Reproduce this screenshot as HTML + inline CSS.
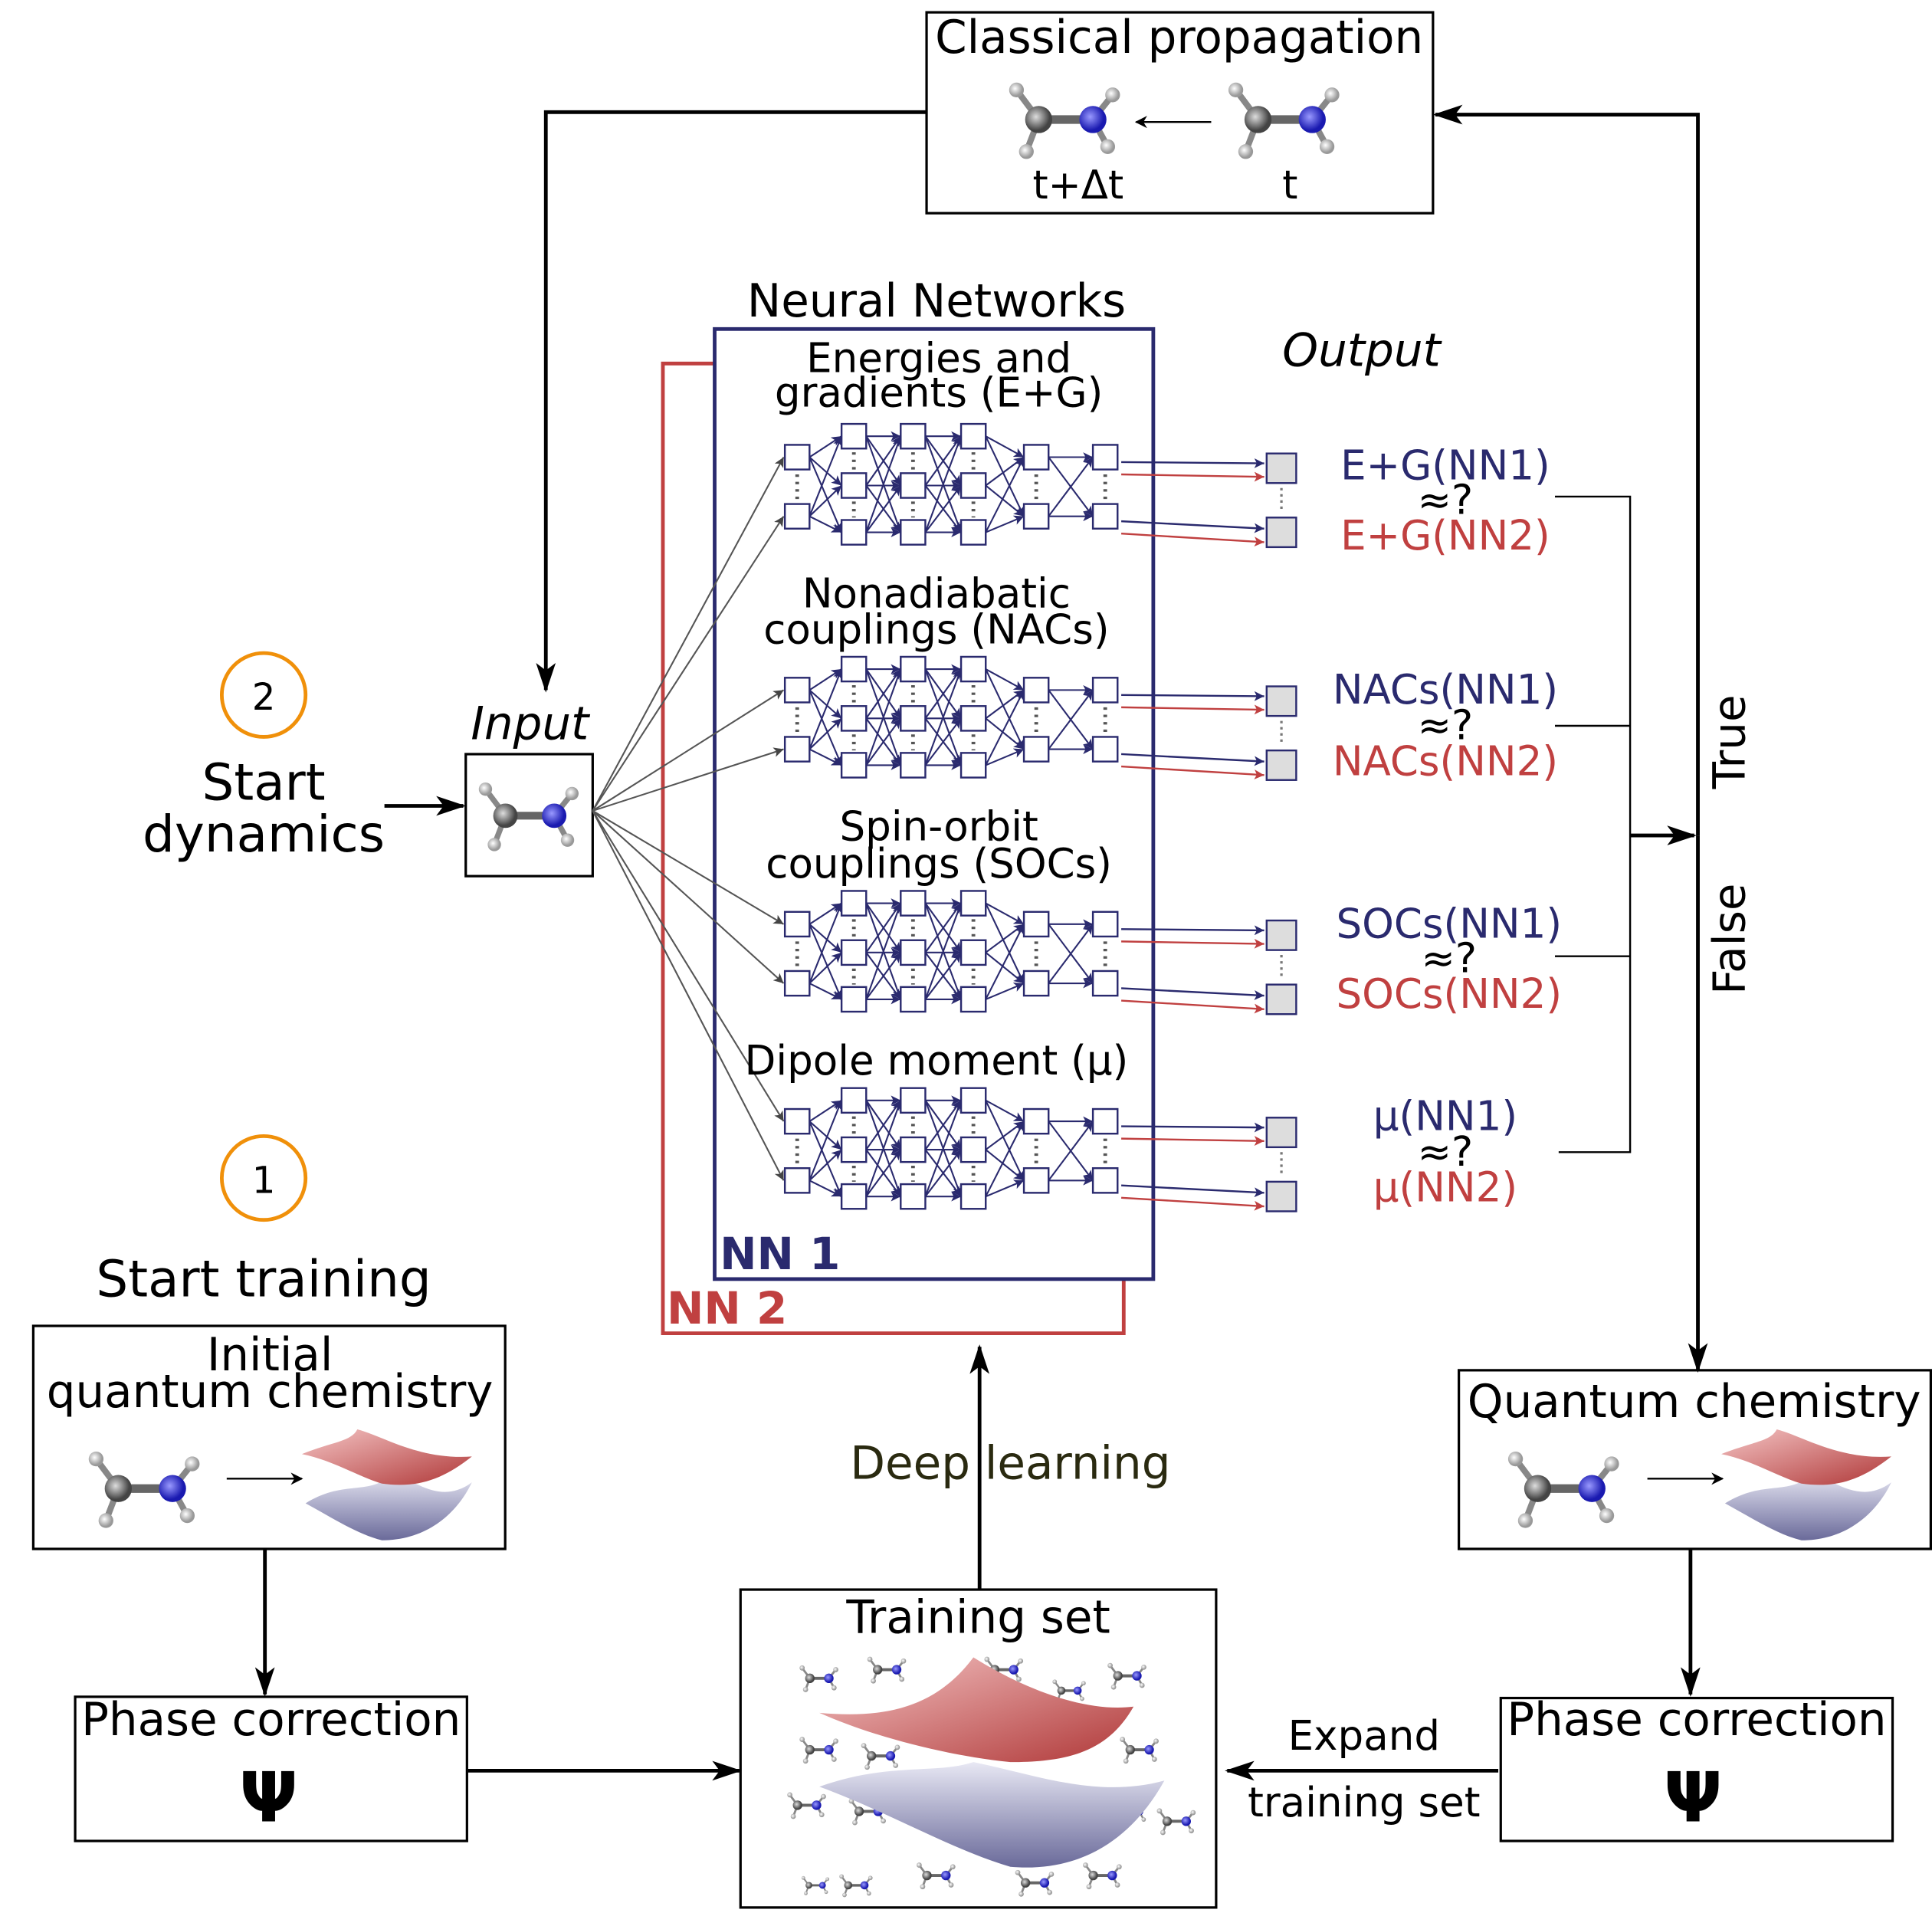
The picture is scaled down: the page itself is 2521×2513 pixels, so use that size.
<!DOCTYPE html>
<html><head><meta charset="utf-8"><style>
html,body{margin:0;padding:0;background:#fff}
svg{display:block}
text{font-family:"DejaVu Sans","Liberation Sans",sans-serif}
</style></head><body>
<svg width="2521" height="2513" viewBox="0 0 1568 1563" xmlns="http://www.w3.org/2000/svg" xmlns:xlink="http://www.w3.org/1999/xlink">
<defs>
<marker id="ab" markerWidth="10" markerHeight="10" refX="9" refY="5" orient="auto" markerUnits="userSpaceOnUse"><path d="M0,0 L10,5 L0,10 L3,5z" fill="#000"/></marker>
<marker id="ab2" markerWidth="24" markerHeight="16" refX="22" refY="8" orient="auto" markerUnits="userSpaceOnUse"><path d="M0,0 L24,8 L0,16 L6,8z" fill="#000"/></marker>
<marker id="an" markerWidth="8" markerHeight="8" refX="8" refY="4" orient="auto" markerUnits="userSpaceOnUse"><path d="M0,0 L8,4 L0,8 L2,4z" fill="#2a2a6e"/></marker>
<marker id="ar" markerWidth="8" markerHeight="8" refX="8" refY="4" orient="auto" markerUnits="userSpaceOnUse"><path d="M0,0 L8,4 L0,8 L2,4z" fill="#c04040"/></marker>
<marker id="ag" markerWidth="8" markerHeight="8" refX="8" refY="4" orient="auto" markerUnits="userSpaceOnUse"><path d="M0,0 L8,4 L0,8 L2,4z" fill="#444"/></marker>
<linearGradient id="gr" x1="0" y1="0" x2="1" y2="1"><stop offset="0" stop-color="#f4c4c4"/><stop offset="1" stop-color="#b03838"/></linearGradient>
<linearGradient id="gb" x1="0" y1="0" x2="0" y2="1"><stop offset="0" stop-color="#e8e8f4"/><stop offset="1" stop-color="#6a6a9a"/></linearGradient>
<radialGradient id="mc" cx=".4" cy=".4"><stop offset="0" stop-color="#ddd"/><stop offset="1" stop-color="#444"/></radialGradient>
<radialGradient id="mn" cx=".4" cy=".4"><stop offset="0" stop-color="#99f"/><stop offset="1" stop-color="#1a1ab0"/></radialGradient>
<radialGradient id="mh" cx=".4" cy=".4"><stop offset="0" stop-color="#fff"/><stop offset="1" stop-color="#999"/></radialGradient>
<g id="mol">
<g stroke="#888" stroke-width="5">
<line x1="-22" y1="0" x2="-40" y2="-24"/><line x1="-22" y1="0" x2="-32" y2="26"/>
<line x1="22" y1="0" x2="38" y2="-20"/><line x1="22" y1="0" x2="34" y2="22"/>
</g>
<line x1="-22" y1="0" x2="22" y2="0" stroke="#666" stroke-width="7"/>
<circle cx="-40" cy="-24" r="6" fill="url(#mh)"/><circle cx="-32" cy="26" r="6" fill="url(#mh)"/>
<circle cx="38" cy="-20" r="6" fill="url(#mh)"/><circle cx="34" cy="22" r="6" fill="url(#mh)"/>
<circle cx="-22" cy="0" r="11" fill="url(#mc)"/><circle cx="22" cy="0" r="11" fill="url(#mn)"/>
</g>
<g id="nw">
<g stroke="#2a2a6e" stroke-width="1.3" marker-end="url(#an)">
<line x1="657" y1="371" x2="683" y2="354"/><line x1="657" y1="371" x2="683" y2="394"/><line x1="657" y1="371" x2="683" y2="432"/>
<line x1="657" y1="419" x2="683" y2="354"/><line x1="657" y1="419" x2="683" y2="394"/><line x1="657" y1="419" x2="683" y2="432"/>
<line x1="703" y1="354" x2="731" y2="354"/><line x1="703" y1="354" x2="731" y2="394"/><line x1="703" y1="354" x2="731" y2="432"/>
<line x1="703" y1="394" x2="731" y2="354"/><line x1="703" y1="394" x2="731" y2="394"/><line x1="703" y1="394" x2="731" y2="432"/>
<line x1="703" y1="432" x2="731" y2="354"/><line x1="703" y1="432" x2="731" y2="394"/><line x1="703" y1="432" x2="731" y2="432"/>
<line x1="751" y1="354" x2="780" y2="354"/><line x1="751" y1="354" x2="780" y2="394"/><line x1="751" y1="354" x2="780" y2="432"/>
<line x1="751" y1="394" x2="780" y2="354"/><line x1="751" y1="394" x2="780" y2="394"/><line x1="751" y1="394" x2="780" y2="432"/>
<line x1="751" y1="432" x2="780" y2="354"/><line x1="751" y1="432" x2="780" y2="394"/><line x1="751" y1="432" x2="780" y2="432"/>
<line x1="800" y1="354" x2="831" y2="371"/><line x1="800" y1="354" x2="831" y2="419"/>
<line x1="800" y1="394" x2="831" y2="371"/><line x1="800" y1="394" x2="831" y2="419"/>
<line x1="800" y1="432" x2="831" y2="371"/><line x1="800" y1="432" x2="831" y2="419"/>
<line x1="851" y1="371" x2="887" y2="371"/><line x1="851" y1="371" x2="887" y2="419"/>
<line x1="851" y1="419" x2="887" y2="371"/><line x1="851" y1="419" x2="887" y2="419"/>
</g>
<g fill="#fff" stroke="#2a2a6e" stroke-width="1.5">
<rect x="637" y="361" width="20" height="20"/><rect x="637" y="409" width="20" height="20"/>
<rect x="683" y="344" width="20" height="20"/><rect x="683" y="384" width="20" height="20"/><rect x="683" y="422" width="20" height="20"/>
<rect x="731" y="344" width="20" height="20"/><rect x="731" y="384" width="20" height="20"/><rect x="731" y="422" width="20" height="20"/>
<rect x="780" y="344" width="20" height="20"/><rect x="780" y="384" width="20" height="20"/><rect x="780" y="422" width="20" height="20"/>
<rect x="831" y="361" width="20" height="20"/><rect x="831" y="409" width="20" height="20"/>
<rect x="887" y="361" width="20" height="20"/><rect x="887" y="409" width="20" height="20"/>
</g>
<g stroke="#555" stroke-width="3" stroke-dasharray="2,4">
<line x1="647" y1="385" x2="647" y2="407"/><line x1="693" y1="367" x2="693" y2="382"/><line x1="693" y1="407" x2="693" y2="420"/>
<line x1="741" y1="367" x2="741" y2="382"/><line x1="741" y1="407" x2="741" y2="420"/>
<line x1="790" y1="367" x2="790" y2="382"/><line x1="790" y1="407" x2="790" y2="420"/>
<line x1="841" y1="385" x2="841" y2="407"/><line x1="897" y1="385" x2="897" y2="407"/>
</g>
<line x1="910" y1="375" x2="1026" y2="376" stroke="#2a2a6e" stroke-width="1.5" marker-end="url(#an)"/>
<line x1="910" y1="385" x2="1026" y2="387" stroke="#c04040" stroke-width="1.5" marker-end="url(#ar)"/>
<line x1="910" y1="423" x2="1026" y2="429" stroke="#2a2a6e" stroke-width="1.5" marker-end="url(#an)"/>
<line x1="910" y1="433" x2="1026" y2="440" stroke="#c04040" stroke-width="1.5" marker-end="url(#ar)"/>
<rect x="1028" y="368" width="24" height="24" fill="#ddd" stroke="#2a2a6e" stroke-width="1.5"/>
<rect x="1028" y="420" width="24" height="24" fill="#ddd" stroke="#2a2a6e" stroke-width="1.5"/>
<line x1="1040" y1="396" x2="1040" y2="416" stroke="#777" stroke-width="2" stroke-dasharray="2,3"/>
</g>
</defs>
<g fill="none" stroke="#000" stroke-width="2">
<rect x="752" y="10" width="411" height="163"/>
<rect x="378" y="612" width="103" height="99"/>
<rect x="27" y="1076" width="383" height="181"/>
<rect x="61" y="1377" width="318" height="117"/>
<rect x="601" y="1290" width="386" height="258"/>
<rect x="1184" y="1112" width="383" height="145"/>
<rect x="1218" y="1378" width="318" height="116"/>
<polyline points="752,91 443,91 443,560" marker-end="url(#ab2)" stroke-width="3"/>
<polyline points="1378,678 1378,93 1165,93" marker-end="url(#ab2)" stroke-width="3"/>
<line x1="1378" y1="678" x2="1378" y2="1112" marker-end="url(#ab2)" stroke-width="3"/>
<line x1="312" y1="654" x2="376" y2="654" marker-end="url(#ab2)" stroke-width="3"/>
<line x1="215" y1="1257" x2="215" y2="1375" marker-end="url(#ab2)" stroke-width="3"/>
<line x1="380" y1="1437" x2="600" y2="1437" marker-end="url(#ab2)" stroke-width="3"/>
<line x1="795" y1="1290" x2="795" y2="1093" marker-end="url(#ab2)" stroke-width="3"/>
<line x1="1372" y1="1257" x2="1372" y2="1375" marker-end="url(#ab2)" stroke-width="3"/>
<line x1="1216" y1="1437" x2="996" y2="1437" marker-end="url(#ab2)" stroke-width="3"/>
<line x1="1323" y1="678" x2="1375" y2="678" marker-end="url(#ab2)" stroke-width="3"/>
<polyline points="1262,403 1323,403 1323,935 1265,935" stroke-width="1.5"/>
<line x1="1262" y1="589" x2="1323" y2="589" stroke-width="1.5"/>
<line x1="1262" y1="776" x2="1323" y2="776" stroke-width="1.5"/>
<line x1="983" y1="99" x2="922" y2="99" marker-end="url(#ab)" stroke-width="1.5"/>
<line x1="184" y1="1200" x2="245" y2="1200" marker-end="url(#ab)" stroke-width="1.5"/>
<line x1="1337" y1="1200" x2="1398" y2="1200" marker-end="url(#ab)" stroke-width="1.5"/>
<polyline points="580,295 538,295 538,1082 912,1082 912,1038" stroke="#c04040" stroke-width="3"/>
<rect x="580" y="267" width="356" height="771" stroke="#2a2a6e" stroke-width="3"/>
</g>
<g stroke="#555" stroke-width="1.3">
<line x1="481" y1="658" x2="636" y2="371" marker-end="url(#ag)"/>
<line x1="481" y1="658" x2="636" y2="419" marker-end="url(#ag)"/>
<line x1="481" y1="658" x2="636" y2="560" marker-end="url(#ag)"/>
<line x1="481" y1="658" x2="636" y2="608" marker-end="url(#ag)"/>
<line x1="481" y1="658" x2="636" y2="750" marker-end="url(#ag)"/>
<line x1="481" y1="658" x2="636" y2="798" marker-end="url(#ag)"/>
<line x1="481" y1="658" x2="636" y2="910" marker-end="url(#ag)"/>
<line x1="481" y1="658" x2="636" y2="958" marker-end="url(#ag)"/>
</g>
<use xlink:href="#nw" href="#nw"/>
<use xlink:href="#nw" href="#nw" transform="translate(0,189)"/>
<use xlink:href="#nw" href="#nw" transform="translate(0,379)"/>
<use xlink:href="#nw" href="#nw" transform="translate(0,539)"/>
<use xlink:href="#mol" href="#mol" transform="translate(865,97)"/>
<use xlink:href="#mol" href="#mol" transform="translate(1043,97)"/>
<use xlink:href="#mol" href="#mol" transform="translate(430,662) scale(0.9)"/>
<use xlink:href="#mol" href="#mol" transform="translate(118,1208)"/>
<use xlink:href="#mol" href="#mol" transform="translate(1270,1208)"/>
<use xlink:href="#mol" href="#mol" transform="translate(665,1362) scale(.35)"/>
<use xlink:href="#mol" href="#mol" transform="translate(720,1355) scale(.35)"/>
<use xlink:href="#mol" href="#mol" transform="translate(815,1355) scale(.35)"/>
<use xlink:href="#mol" href="#mol" transform="translate(915,1360) scale(.35)"/>
<use xlink:href="#mol" href="#mol" transform="translate(868,1372) scale(.3)"/>
<use xlink:href="#mol" href="#mol" transform="translate(665,1420) scale(.35)"/>
<use xlink:href="#mol" href="#mol" transform="translate(715,1425) scale(.35)"/>
<use xlink:href="#mol" href="#mol" transform="translate(925,1420) scale(.35)"/>
<use xlink:href="#mol" href="#mol" transform="translate(655,1465) scale(.35)"/>
<use xlink:href="#mol" href="#mol" transform="translate(705,1470) scale(.35)"/>
<use xlink:href="#mol" href="#mol" transform="translate(918,1470) scale(.3)"/>
<use xlink:href="#mol" href="#mol" transform="translate(955,1478) scale(.35)"/>
<use xlink:href="#mol" href="#mol" transform="translate(760,1522) scale(.35)"/>
<use xlink:href="#mol" href="#mol" transform="translate(840,1528) scale(.35)"/>
<use xlink:href="#mol" href="#mol" transform="translate(895,1522) scale(.35)"/>
<use xlink:href="#mol" href="#mol" transform="translate(695,1530) scale(.3)"/>
<use xlink:href="#mol" href="#mol" transform="translate(662,1530) scale(.25)"/>
<g>
<path d="M248,1220 C280,1200 300,1215 320,1195 C340,1205 360,1220 383,1203 C370,1230 345,1250 310,1250 C290,1245 270,1232 248,1220z" fill="url(#gb)"/>
<path d="M245,1180 C270,1170 285,1170 290,1160 C310,1165 340,1185 383,1182 C360,1200 340,1208 310,1204 C290,1198 270,1185 245,1180z" fill="url(#gr)"/>
<path d="M1400,1220 C1432,1200 1452,1215 1472,1195 C1492,1205 1512,1220 1535,1203 C1522,1230 1497,1250 1462,1250 C1442,1245 1422,1232 1400,1220z" fill="url(#gb)"/>
<path d="M1397,1180 C1422,1170 1437,1170 1442,1160 C1462,1165 1492,1185 1535,1182 C1512,1200 1492,1208 1462,1204 C1442,1198 1422,1185 1397,1180z" fill="url(#gr)"/>
<path d="M665,1450 C720,1430 760,1440 790,1430 C840,1440 890,1460 945,1445 C920,1490 880,1520 820,1515 C770,1500 720,1470 665,1450z" fill="url(#gb)"/>
<path d="M665,1390 C720,1395 760,1385 790,1345 C830,1370 880,1390 920,1385 C900,1420 870,1430 820,1430 C770,1425 710,1410 665,1390z" fill="url(#gr)"/>
</g>
<g font-size="37" text-anchor="middle" fill="#000">
<text x="957" y="43">Classical propagation</text>
<text x="875" y="161" font-size="32">t+Δt</text>
<text x="1047" y="161" font-size="32">t</text>
<text x="760" y="257">Neural Networks</text>
<text x="1105" y="297" font-style="italic">Output</text>
<text x="430" y="600" font-style="italic">Input</text>
<g font-size="33">
<text x="762" y="302">Energies and</text>
<text x="762" y="330">gradients (E+G)</text>
<text x="760" y="493">Nonadiabatic</text>
<text x="760" y="522">couplings (NACs)</text>
<text x="762" y="682">Spin-orbit</text>
<text x="762" y="712">couplings (SOCs)</text>
<text x="760" y="872">Dipole moment (μ)</text>
</g>
<g font-size="33">
<text x="1173" y="389" fill="#2a2a6e">E+G(NN1)</text>
<text x="1173" y="417">≈?</text>
<text x="1173" y="446" fill="#c04040">E+G(NN2)</text>
<text x="1173" y="571" fill="#2a2a6e">NACs(NN1)</text>
<text x="1173" y="600">≈?</text>
<text x="1173" y="629" fill="#c04040">NACs(NN2)</text>
<text x="1176" y="761" fill="#2a2a6e">SOCs(NN1)</text>
<text x="1176" y="789">≈?</text>
<text x="1176" y="818" fill="#c04040">SOCs(NN2)</text>
<text x="1173" y="917" fill="#2a2a6e">μ(NN1)</text>
<text x="1173" y="946">≈?</text>
<text x="1173" y="975" fill="#c04040">μ(NN2)</text>
</g>
<text x="214" y="649" font-size="41">Start</text>
<text x="214" y="691" font-size="41">dynamics</text>
<text x="214" y="1052" font-size="41">Start training</text>
<text x="219" y="1112">Initial</text>
<text x="219" y="1142">quantum chemistry</text>
<text x="220" y="1408">Phase correction</text>
<text x="1377" y="1408">Phase correction</text>
<text x="1375" y="1150">Quantum chemistry</text>
<text x="794" y="1325">Training set</text>
<text x="820" y="1200" fill="#2a2a10">Deep learning</text>
<text x="1107" y="1420" font-size="33">Expand</text>
<text x="1107" y="1474" font-size="33">training set</text>
<text x="218" y="1478" font-size="56" font-weight="bold" font-family="Liberation Serif,serif">Ψ</text>
<text x="1374" y="1478" font-size="56" font-weight="bold" font-family="Liberation Serif,serif">Ψ</text>
<text transform="translate(1416,602) rotate(-90)" font-size="36">True</text>
<text transform="translate(1416,762) rotate(-90)" font-size="36">False</text>
<text x="633" y="1030" font-size="36" font-weight="bold" fill="#2a2a6e" font-family="Liberation Sans,sans-serif">NN 1</text>
<text x="590" y="1074" font-size="36" font-weight="bold" fill="#c04040" font-family="Liberation Sans,sans-serif">NN 2</text>
<circle cx="214" cy="564" r="34" fill="none" stroke="#f0900a" stroke-width="3"/>
<text x="214" y="576" font-size="30">2</text>
<circle cx="214" cy="956" r="34" fill="none" stroke="#f0900a" stroke-width="3"/>
<text x="214" y="968" font-size="30">1</text>
</g>
</svg>
</body></html>
